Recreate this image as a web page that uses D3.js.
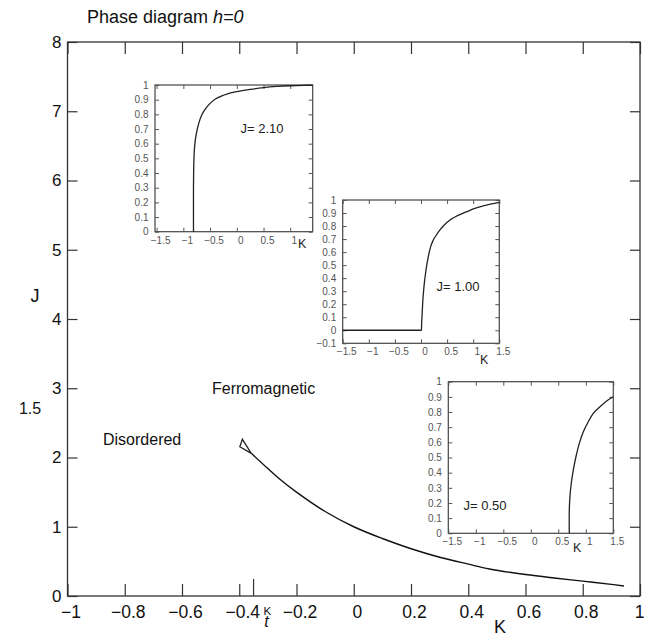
<!DOCTYPE html>
<html><head><meta charset="utf-8">
<script src="https://cdn.jsdelivr.net/npm/d3@7"></script>
<style>
body{margin:0;background:#fff;}
svg{display:block;font-family:"Liberation Sans",Arial,sans-serif;}
</style></head>
<body><svg id="c" width="646" height="637"></svg>
<script>
// ---- main phase diagram data ----
const mainXTicks = [-1,-0.8,-0.6,-0.4,-0.2,0,0.2,0.4,0.6,0.8,1];
const mainYTicks = [0,1,2,3,4,5,6,7,8];
const Kt = -0.35;
const boundaryK = [-0.358,-0.3,-0.259,-0.2,-0.1,0,0.1,0.195,0.3,0.4,0.474,0.6,0.7,0.8,0.9,0.944];
const boundaryJ = [2.06,1.84,1.69,1.5,1.22,1.0,0.83,0.69,0.56,0.46,0.39,0.31,0.26,0.215,0.168,0.145];
const triangleK = [-0.358,-0.389,-0.398,-0.358];
const triangleJ = [2.06,2.263,2.156,2.06];

// ---- insets ----
const inset1K = [-0.81,-0.81,-0.805,-0.795,-0.78,-0.75,-0.71,-0.656,-0.58,-0.5,-0.4,-0.25,-0.1,0,0.25,0.5,0.75,1,1.25,1.42];
const inset1M = [0,0.3,0.45,0.55,0.614,0.68,0.74,0.795,0.84,0.875,0.905,0.93,0.948,0.955,0.97,0.982,0.99,0.995,0.998,0.999];
const inset2K = [-1.5,0.01,0.012,0.019,0.032,0.057,0.096,0.14,0.185,0.236,0.3,0.364,0.45,0.555,0.7,0.874,1.03,1.19,1.35,1.5];
const inset2M = [0,0,0.05,0.1,0.207,0.335,0.463,0.565,0.642,0.693,0.735,0.77,0.81,0.847,0.88,0.91,0.935,0.954,0.97,0.982];
const inset3K = [0.7,0.7,0.712,0.736,0.773,0.821,0.882,0.955,1.045,1.136,1.258,1.379,1.5];
const inset3M = [0,0.154,0.242,0.33,0.418,0.505,0.593,0.67,0.736,0.791,0.835,0.873,0.901];
const insetYTicks = [0,0.1,0.2,0.3,0.4,0.5,0.6,0.7,0.8,0.9,1];
const inset2YTicks = [-0.1,0,0.1,0.2,0.3,0.4,0.5,0.6,0.7,0.8,0.9,1];
const inset1XTicks = [-1.5,-1,-0.5,0,0.5,1];
const insetXTicks = [-1.5,-1,-0.5,0,0.5,1,1.5];

const svg = d3.select("#c");
const x = d3.scaleLinear([-1,1],[67.5,640]);
const y = d3.scaleLinear([0,8],[596,42]);
const frameCol = "#333";

// frame
svg.append("rect").attr("x",x(-1)).attr("y",y(8)).attr("width",x(1)-x(-1)).attr("height",y(0)-y(8))
  .attr("fill","none").attr("stroke",frameCol).attr("stroke-width",1.3);

function styleAxis(g, fs){
  g.select(".domain").remove();
  g.selectAll(".tick line").attr("stroke",frameCol).attr("stroke-width",1.2);
  g.selectAll(".tick text").attr("fill","#111").style("font-size",fs+"px").style("font-family","Liberation Sans, Arial, sans-serif");
}
svg.append("g").attr("transform",`translate(0,${y(0)})`)
  .call(d3.axisBottom(x).tickValues(mainXTicks).tickSize(-12).tickPadding(10).tickFormat(d3.format("~g")))
  .call(g=>styleAxis(g,17.5))
  .call(g=>g.selectAll(".tick text").attr("dx",d=>d===1?-1:3));
svg.append("g").attr("transform",`translate(0,${y(8)})`)
  .call(d3.axisTop(x).tickValues(mainXTicks).tickSize(-12).tickFormat(""))
  .call(g=>styleAxis(g,17));
svg.append("g").attr("transform",`translate(${x(-1)},0)`)
  .call(d3.axisLeft(y).tickValues(mainYTicks).tickSize(-10).tickPadding(6).tickFormat(d3.format("~g")))
  .call(g=>styleAxis(g,17));
svg.append("g").attr("transform",`translate(${x(1)},0)`)
  .call(d3.axisRight(y).tickValues(mainYTicks).tickSize(-10).tickFormat(""))
  .call(g=>styleAxis(g,17));
// Kt tick and label
svg.append("line").attr("x1",x(Kt)).attr("x2",x(Kt)).attr("y1",y(0)).attr("y2",y(0)-17)
  .attr("stroke",frameCol).attr("stroke-width",1.2);
const ktl = svg.append("text").attr("x",x(Kt)+10).attr("y",615).attr("fill","#111");
ktl.append("tspan").style("font-size","11.5px").text("K");
ktl.append("tspan").attr("dx",-7).attr("dy",12).style("font-size","16px").style("font-style","italic").text("t");

// boundary curve
const line = d3.line().x(d=>x(d[0])).y(d=>y(d[1])).curve(d3.curveCatmullRom.alpha(0.5));
svg.append("path").attr("d",line(boundaryK.map((k,i)=>[k,boundaryJ[i]])))
  .attr("fill","none").attr("stroke","#111").attr("stroke-width",1.4);
svg.append("path").attr("d",d3.line().x(d=>x(d[0])).y(d=>y(d[1]))(triangleK.map((k,i)=>[k,triangleJ[i]])))
  .attr("fill","none").attr("stroke","#222").attr("stroke-width",1.3).attr("stroke-linejoin","miter");

// labels
const t = svg.append("text").attr("x",87).attr("y",23).style("font-size","18px").attr("fill","#111");
t.append("tspan").text("Phase diagram ");
t.append("tspan").style("font-style","italic").text("h=0");
svg.append("text").attr("x",35).attr("y",302).attr("text-anchor","middle").style("font-size","18px").attr("fill","#111").text("J");
svg.append("text").attr("x",30).attr("y",414).attr("text-anchor","middle").style("font-size","16px").attr("fill","#111").text("1.5");
svg.append("text").attr("x",500).attr("y",633).attr("text-anchor","middle").style("font-size","18px").attr("fill","#111").text("K");
svg.append("text").attr("x",103).attr("y",445).style("font-size","16px").attr("fill","#111").text("Disordered");
svg.append("text").attr("x",212).attr("y",394).style("font-size","16px").attr("fill","#111").text("Ferromagnetic");

// insets
function inset(cfg){
  const g = svg.append("g");
  const ix = d3.scaleLinear(cfg.xd,[cfg.l,cfg.r]);
  const iy = d3.scaleLinear(cfg.yd,[cfg.b,cfg.t]);
  g.append("rect").attr("x",cfg.l).attr("y",cfg.t).attr("width",cfg.r-cfg.l).attr("height",cfg.b-cfg.t)
    .attr("fill","#fff").attr("stroke","#444").attr("stroke-width",1.2);
  const st = (a)=>{a.select(".domain").remove();
    a.selectAll(".tick line").attr("stroke","#555");
    a.selectAll(".tick text").attr("fill","#555").style("font-size","10px").style("font-family","Liberation Sans, Arial, sans-serif");};
  g.append("g").attr("transform",`translate(0,${cfg.b})`)
    .call(d3.axisBottom(ix).tickValues(cfg.xt).tickSize(-4).tickPadding(5).tickFormat(d3.format("~g"))).call(st)
    .call(a=>a.selectAll(".tick text").attr("dx",3.5));
  g.append("g").attr("transform",`translate(0,${cfg.t})`)
    .call(d3.axisTop(ix).tickValues(cfg.xt).tickSize(-4).tickFormat("")).call(st);
  g.append("g").attr("transform",`translate(${cfg.l},0)`)
    .call(d3.axisLeft(iy).tickValues(cfg.yt).tickSize(-4).tickPadding(6.5).tickFormat(d3.format("~g"))).call(st);
  g.append("g").attr("transform",`translate(${cfg.r},0)`)
    .call(d3.axisRight(iy).tickValues(cfg.yt).tickSize(-4).tickFormat("")).call(st);
  const ln = d3.line().x(d=>ix(d[0])).y(d=>iy(d[1])).curve(cfg.curve);
  g.append("path").attr("d",ln(cfg.k.map((k,i)=>[k,cfg.m[i]])))
    .attr("fill","none").attr("stroke","#222").attr("stroke-width",1.3);
  g.append("text").attr("x",cfg.kx).attr("y",cfg.ky).style("font-size","12.5px").attr("fill","#222").text("K");
  g.append("text").attr("x",cfg.jx).attr("y",cfg.jy).attr("text-anchor","middle").style("font-size","13px").attr("fill","#222").text(cfg.label);
}
const cr = d3.curveCatmullRom.alpha(0.5);
inset({l:155,r:312.7,t:85,b:231.7,xd:[-1.53,1.42],yd:[0,1],xt:inset1XTicks,yt:insetYTicks,k:inset1K,m:inset1M,curve:cr,kx:298,ky:248,jx:262,jy:133,label:"J= 2.10"});
inset({l:342.7,r:499.3,t:200,b:343.3,xd:[-1.5,1.5],yd:[-0.1,1],xt:insetXTicks,yt:inset2YTicks,k:inset2K,m:inset2M,curve:d3.curveMonotoneX,kx:480,ky:364,jx:458,jy:291,label:"J= 1.00"});
inset({l:448.3,r:613.3,t:381.7,b:533.3,xd:[-1.5,1.5],yd:[0,1],xt:insetXTicks,yt:insetYTicks,k:inset3K,m:inset3M,curve:cr,kx:573,ky:552,jx:485,jy:510,label:"J= 0.50"});
</script></body></html>
